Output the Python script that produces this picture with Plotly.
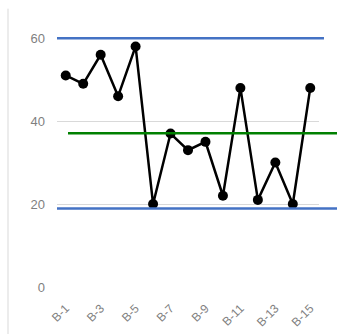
import plotly.graph_objects as go

# Batch measurements
batches = [f"B-{i}" for i in range(1, 16)]
values = [51, 49, 56, 46, 58, 20, 37, 33, 35, 22, 48, 21, 30, 20, 48]

# Control limits
ucl = 60
center = 37.1
lcl = 18.9

y_ticks = [0, 20, 40, 60]
x_labels = batches[::2]

fig = go.Figure()
fig.add_trace(go.Scatter(
    x=batches, y=values, mode="lines+markers",
    line=dict(color="black", width=2.5),
    marker=dict(color="black", size=10),
    cliponaxis=False, showlegend=False,
))

font = dict(family="Liberation Sans, Arial, sans-serif", size=13, color="#7f7f7f")

fig.update_layout(
    width=337, height=334,
    margin=dict(l=57, r=18, t=34, b=47),
    paper_bgcolor="white", plot_bgcolor="white",
    font=font,
    xaxis=dict(
        type="category", tickmode="array", tickvals=x_labels, ticktext=x_labels,
        tickangle=-45, tickfont=dict(size=12, color="#7f7f7f"),
        ticklabelstandoff=11, automargin=False,
        showgrid=False, zeroline=False, showline=False, ticks="",
        range=[-0.5, len(batches) - 0.5],
    ),
    yaxis=dict(
        range=[0, 61], tickvals=y_ticks, showgrid=True, gridcolor="#d9d9d9",
        gridwidth=1, zeroline=False, showline=False, ticks="", ticklen=0,
        tickfont=dict(size=13, color="#7f7f7f"), ticklabelstandoff=11,
        automargin=False,
    ),
    shapes=[
        # chart border on the left
        dict(type="line", xref="paper", yref="paper", x0=-0.187, x1=-0.187,
             y0=1.1, y1=-0.19, line=dict(color="#d9d9d9", width=1)),
        # control lines
        dict(type="line", xref="paper", yref="y", x0=0, x1=1.019, y0=ucl, y1=ucl,
             line=dict(color="#4472c4", width=2.5)),
        dict(type="line", xref="paper", yref="y", x0=0.042, x1=1.08, y0=center, y1=center,
             line=dict(color="#008000", width=2.5)),
        dict(type="line", xref="paper", yref="y", x0=0, x1=1.08, y0=lcl, y1=lcl,
             line=dict(color="#4472c4", width=2.5)),
    ],
)

fig.write_html("out.html")
